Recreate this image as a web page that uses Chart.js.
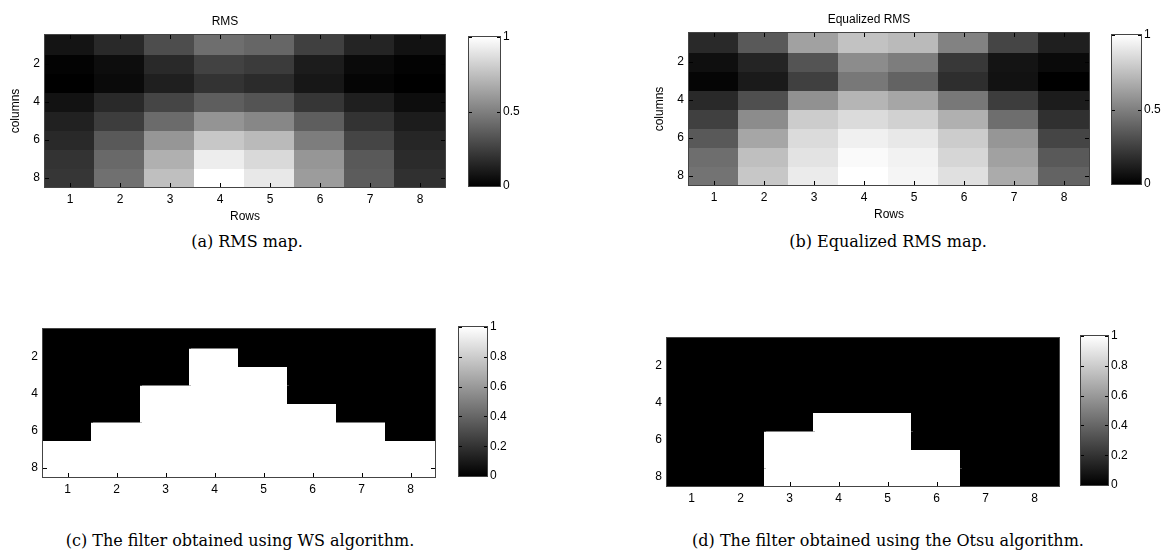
<!DOCTYPE html>
<html>
<head>
<meta charset="utf-8">
<script src="https://cdn.jsdelivr.net/npm/chart.js@4.4.0/dist/chart.umd.min.js"></script>
<style>
  body { margin: 0; background: #fff; width: 1170px; height: 555px; position: relative; overflow: hidden; }
  .box { position: absolute; }
  .cap { position: absolute; font-family: "DejaVu Serif", serif; font-size: 16px; color: #000;
         white-space: nowrap; transform: translate(-50%, -50%); }
</style>
</head>
<body>
<div class="box" id="wa"><canvas id="heatA"></canvas></div>
<div class="box" id="wac"><canvas id="cbA"></canvas></div>
<div class="box" id="wb"><canvas id="heatB"></canvas></div>
<div class="box" id="wbc"><canvas id="cbB"></canvas></div>
<div class="box" id="wc"><canvas id="heatC"></canvas></div>
<div class="box" id="wcc"><canvas id="cbC"></canvas></div>
<div class="box" id="wd"><canvas id="heatD"></canvas></div>
<div class="box" id="wdc"><canvas id="cbD"></canvas></div>

<div class="cap" style="left:247px;top:241px">(a) RMS map.</div>
<div class="cap" style="left:888px;top:241px">(b) Equalized RMS map.</div>
<div class="cap" style="left:240px;top:540px">(c) The filter obtained using WS algorithm.</div>
<div class="cap" style="left:888px;top:540px">(d) The filter obtained using the Otsu algorithm.</div>

<script>
// x categories ("Rows") and y ticks ("columns")
const rowLabels = ['1', '2', '3', '4', '5', '6', '7', '8'];
const colTicks = [2, 4, 6, 8];

// RMS map, one array per column index 1..8 (top to bottom)
const rms1 = [0.08, 0.16, 0.30, 0.43, 0.40, 0.25, 0.14, 0.07];
const rms2 = [0.01, 0.05, 0.16, 0.26, 0.23, 0.11, 0.04, 0.01];
const rms3 = [0.00, 0.04, 0.12, 0.20, 0.17, 0.09, 0.02, 0.00];
const rms4 = [0.07, 0.16, 0.27, 0.37, 0.33, 0.21, 0.12, 0.05];
const rms5 = [0.13, 0.24, 0.42, 0.58, 0.53, 0.37, 0.20, 0.11];
const rms6 = [0.16, 0.35, 0.59, 0.78, 0.73, 0.49, 0.27, 0.15];
const rms7 = [0.20, 0.41, 0.69, 0.93, 0.85, 0.59, 0.35, 0.17];
const rms8 = [0.21, 0.44, 0.75, 1.00, 0.91, 0.61, 0.36, 0.19];

// Equalized RMS map
const eq1 = [0.16, 0.35, 0.63, 0.76, 0.73, 0.51, 0.27, 0.12];
const eq2 = [0.06, 0.14, 0.33, 0.55, 0.49, 0.22, 0.08, 0.04];
const eq3 = [0.02, 0.10, 0.25, 0.47, 0.39, 0.18, 0.07, 0.00];
const eq4 = [0.16, 0.31, 0.57, 0.71, 0.65, 0.47, 0.24, 0.11];
const eq5 = [0.25, 0.55, 0.80, 0.86, 0.82, 0.69, 0.43, 0.19];
const eq6 = [0.35, 0.65, 0.86, 0.94, 0.91, 0.80, 0.59, 0.27];
const eq7 = [0.43, 0.75, 0.89, 0.98, 0.95, 0.84, 0.63, 0.35];
const eq8 = [0.45, 0.78, 0.92, 1.00, 0.96, 0.88, 0.67, 0.39];

// WS filter (binary)
const ws1 = [0, 0, 0, 0, 0, 0, 0, 0];
const ws2 = [0, 0, 0, 1, 0, 0, 0, 0];
const ws3 = [0, 0, 0, 1, 1, 0, 0, 0];
const ws4 = [0, 0, 1, 1, 1, 0, 0, 0];
const ws5 = [0, 0, 1, 1, 1, 1, 0, 0];
const ws6 = [0, 1, 1, 1, 1, 1, 1, 0];
const ws7 = [1, 1, 1, 1, 1, 1, 1, 1];
const ws8 = [1, 1, 1, 1, 1, 1, 1, 1];

// Otsu filter (binary)
const otsu1 = [0, 0, 0, 0, 0, 0, 0, 0];
const otsu2 = [0, 0, 0, 0, 0, 0, 0, 0];
const otsu3 = [0, 0, 0, 0, 0, 0, 0, 0];
const otsu4 = [0, 0, 0, 0, 0, 0, 0, 0];
const otsu5 = [0, 0, 0, 1, 1, 0, 0, 0];
const otsu6 = [0, 0, 1, 1, 1, 0, 0, 0];
const otsu7 = [0, 0, 1, 1, 1, 1, 0, 0];
const otsu8 = [0, 0, 1, 1, 1, 1, 0, 0];

// colorbar ticks
const cbTicksTop = [0, 0.5, 1];
const cbTicksBottom = [0, 0.2, 0.4, 0.6, 0.8, 1];

const FONT = '"Liberation Sans", Arial, sans-serif';
const tickFont = { family: FONT, size: 12, lineHeight: '14px' };

function gray(v) {
  const g = Math.round(Math.max(0, Math.min(1, v)) * 255);
  return 'rgb(' + g + ',' + g + ',' + g + ')';
}

function place(id, left, top, w, h) {
  const el = document.getElementById(id);
  el.style.left = left + 'px';
  el.style.top = top + 'px';
  el.style.width = w + 'px';
  el.style.height = h + 'px';
}

// matlab style: box around the axes and little ticks pointing inwards on all sides
const boxTicks = {
  id: 'boxTicks',
  afterDatasetsDraw(chart, args, o) {
    const { ctx, chartArea: a } = chart;
    const len = o.len || 4;
    ctx.save();
    ctx.lineWidth = 1;
    ctx.strokeStyle = o.tickColor || '#000';
    ctx.beginPath();
    const xs = chart.scales.x, ys = chart.scales.y;
    if (o.xTicks) {
      xs.ticks.forEach((t, i) => {
        const p = Math.round(xs.getPixelForTick(i)) + 0.5;
        ctx.moveTo(p, a.bottom); ctx.lineTo(p, a.bottom - len);
        ctx.moveTo(p, a.top); ctx.lineTo(p, a.top + len);
      });
    }
    ys.ticks.forEach(t => {
      const p = Math.round(ys.getPixelForValue(t.value)) + 0.5;
      ctx.moveTo(a.left, p); ctx.lineTo(a.left + len, p);
      ctx.moveTo(a.right, p); ctx.lineTo(a.right - len, p);
    });
    ctx.stroke();
    ctx.strokeStyle = o.boxColor || '#444';
    ctx.strokeRect(Math.round(a.left) - 0.5, Math.round(a.top) - 0.5,
                   Math.round(a.right - a.left) + 1, Math.round(a.bottom - a.top) + 1);
    ctx.restore();
  }
};

function heatmap(canvasId, wrapId, rows, p) {
  const yW = p.yW, tH = p.tH, xH = p.xH;
  place(wrapId, p.L - yW, p.T - tH, p.R - p.L + yW + 4, p.B - p.T + tH + xH);

  // one dataset per matrix row, each cell is a floating bar [y-0.5, y+0.5]
  // cells overlap by a pixel so no light seams show between equal cells
  const datasets = rows.map((vals, r) => ({
    data: rowLabels.map(() => [r + 0.5, r + 1.5]),
    backgroundColor: vals.map(gray),
    borderWidth: 0,
    inflateAmount: 1,
    grouped: false,
    barPercentage: 1,
    categoryPercentage: 1
  }));

  new Chart(document.getElementById(canvasId), {
    type: 'bar',
    data: { labels: rowLabels, datasets: datasets },
    options: {
      responsive: true,
      maintainAspectRatio: false,
      animation: false,
      layout: { padding: { left: 0, right: 4, top: p.title ? 0 : tH, bottom: 0 } },
      plugins: {
        legend: { display: false },
        tooltip: { enabled: false },
        title: {
          display: !!p.title,
          text: p.title || '',
          color: '#000',
          font: { family: FONT, size: 12, weight: 'normal', lineHeight: '14px' },
          padding: { top: 0, bottom: tH - 14 }
        },
        boxTicks: { xTicks: true, len: 4 }
      },
      scales: {
        x: {
          grid: { display: false, drawTicks: false },
          border: { display: false },
          ticks: { color: '#000', padding: 6, font: tickFont },
          title: {
            display: !!p.xTitle, text: p.xTitle || '', color: '#000',
            font: { family: FONT, size: 12, lineHeight: '14px' }, padding: { top: 0, bottom: 3 }
          },
          afterFit: s => { s.height = xH; }
        },
        y: {
          min: 0.5, max: 8.5, reverse: true,
          grid: { display: false, drawTicks: false },
          border: { display: false },
          ticks: { color: '#000', padding: 5, font: tickFont },
          afterBuildTicks: s => { s.ticks = colTicks.map(v => ({ value: v })); },
          title: {
            display: !!p.yTitle, text: p.yTitle || '', color: '#000',
            font: { family: FONT, size: 12, lineHeight: '14px' }, padding: { top: 4, bottom: 0 }
          },
          afterFit: s => { s.width = yW; }
        }
      }
    },
    plugins: [boxTicks]
  });
}

function colorbar(canvasId, wrapId, ticks, p) {
  place(wrapId, p.L, p.T - 8, p.R - p.L + 30, p.B - p.T + 16);
  new Chart(document.getElementById(canvasId), {
    type: 'bar',
    data: {
      labels: [''],
      datasets: [{
        data: [[ticks[0], ticks[ticks.length - 1]]],
        backgroundColor: c => {
          const a = c.chart.chartArea;
          if (!a) return '#888';
          const g = c.chart.ctx.createLinearGradient(0, a.bottom, 0, a.top);
          g.addColorStop(0, '#000');
          g.addColorStop(1, '#fff');
          return g;
        },
        borderWidth: 0,
        barPercentage: 1,
        categoryPercentage: 1
      }]
    },
    options: {
      responsive: true,
      maintainAspectRatio: false,
      animation: false,
      layout: { padding: { left: 1, right: 0, top: 8, bottom: 8 } },
      plugins: {
        legend: { display: false },
        tooltip: { enabled: false },
        boxTicks: { xTicks: false, len: 3 }
      },
      scales: {
        x: { display: false },
        y: {
          position: 'right',
          min: ticks[0], max: ticks[ticks.length - 1],
          grid: { display: false, drawTicks: false },
          border: { display: false },
          afterBuildTicks: s => { s.ticks = ticks.map(v => ({ value: v })); },
          ticks: { color: '#000', padding: 3, font: tickFont, callback: v => String(v) },
          afterFit: s => { s.width = 30; }
        }
      }
    },
    plugins: [boxTicks]
  });
}

heatmap('heatA', 'wa', [rms1, rms2, rms3, rms4, rms5, rms6, rms7, rms8],
  { L: 45, T: 35, R: 445, B: 187, yW: 40, tH: 20, xH: 40, title: 'RMS', xTitle: 'Rows', yTitle: 'columns' });
colorbar('cbA', 'wac', cbTicksTop, { L: 468, T: 35, R: 500, B: 188 });

heatmap('heatB', 'wb', [eq1, eq2, eq3, eq4, eq5, eq6, eq7, eq8],
  { L: 689, T: 33, R: 1089, B: 185, yW: 40, tH: 20, xH: 40, title: 'Equalized RMS', xTitle: 'Rows', yTitle: 'columns' });
colorbar('cbB', 'wbc', cbTicksTop, { L: 1111, T: 33, R: 1141, B: 186 });

heatmap('heatC', 'wc', [ws1, ws2, ws3, ws4, ws5, ws6, ws7, ws8],
  { L: 43, T: 325, R: 435, B: 477, yW: 30, tH: 8, xH: 24 });
colorbar('cbC', 'wcc', cbTicksBottom, { L: 458, T: 325, R: 487, B: 478 });

heatmap('heatD', 'wd', [otsu1, otsu2, otsu3, otsu4, otsu5, otsu6, otsu7, otsu8],
  { L: 667, T: 334, R: 1059, B: 486, yW: 30, tH: 8, xH: 24 });
colorbar('cbD', 'wdc', cbTicksBottom, { L: 1080, T: 334, R: 1108, B: 487 });
</script>
</body>
</html>
